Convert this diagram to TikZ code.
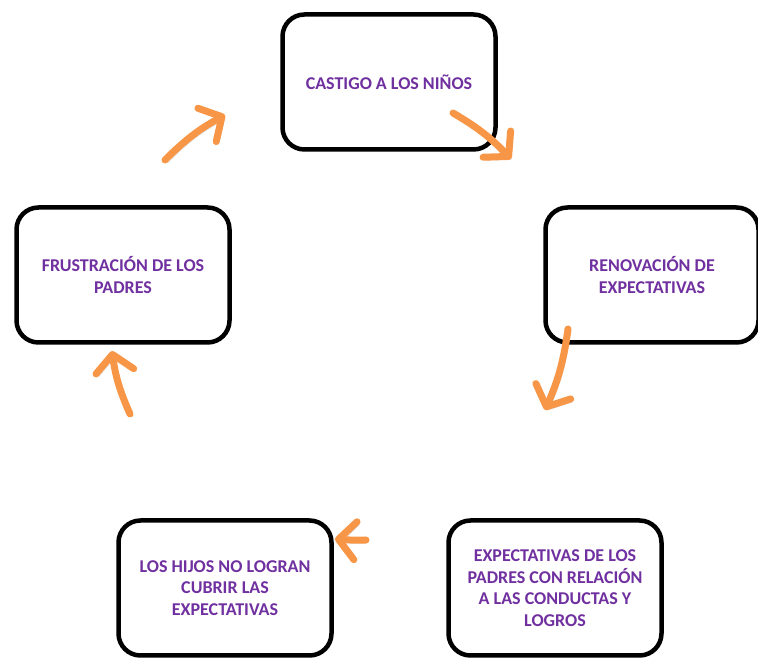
\documentclass[tikz,border=0pt]{standalone}
\usepackage{fontspec}
\setmainfont{Carlito}[BoldFont=Carlito Bold]
\usetikzlibrary{arrows.meta}
\definecolor{morado}{HTML}{7030A0}
\definecolor{naranja}{HTML}{F79646}

\begin{document}
\begin{tikzpicture}[x=1pt, y=1pt,
		caja/.style={draw, line width=4.5pt, rounded corners=22pt, fill=white,
			minimum width=213pt, minimum height=135pt, align=center,
			text=morado, font=\fontsize{18}{21.5}\selectfont\bfseries},
		flecha/.style={line width=7pt, naranja, line cap=round, line join=round,
			-{Straight Barb[length=17pt, width=38pt, line cap=round, line join=round]},
			preaction={draw=black!18, transform canvas={shift={(2.5pt,-3pt)}}}}]
		\useasboundingbox (0,0) rectangle (758,660);

		\node[caja] (castigo)      at (389,578) {CASTIGO A LOS NIÑOS};
		\node[caja] (renovacion)   at (652,385) {RENOVACIÓN DE\\EXPECTATIVAS};
		\node[caja] (expectativas) at (555,72)  {EXPECTATIVAS DE LOS\\PADRES CON RELACIÓN\\A LAS CONDUCTAS Y\\LOGROS};
		\node[caja] (hijos)        at (225,72)  {LOS HIJOS NO LOGRAN\\CUBRIR LAS\\EXPECTATIVAS};
		\node[caja] (frustracion)  at (123,385) {FRUSTRACIÓN DE LOS\\PADRES};

		% flechas encima de las cajas
		\coordinate (a1) at (453,547);
		\coordinate (b1) at (511,501);
		\coordinate (a2) at (568,331);
		\coordinate (b2) at (545,250);
		\coordinate (a3) at (366,120);
		\coordinate (b3) at (335,121);
		\coordinate (a4) at (130,246);
		\coordinate (b4) at (112,309);
		\coordinate (a5) at (165,500);
		\coordinate (b5) at (225,545);

		\draw[flecha] (a1) to [bend left=8] (b1);
		\draw[flecha] (a2) to [bend left=8] (b2);
		\draw[flecha] (a3) to [bend left=3] (b3);
		\draw[flecha] (a4) to [bend left=8] (b4);
		\draw[flecha] (a5) to [bend left=8] (b5);

	\end{tikzpicture}
\end{document}
